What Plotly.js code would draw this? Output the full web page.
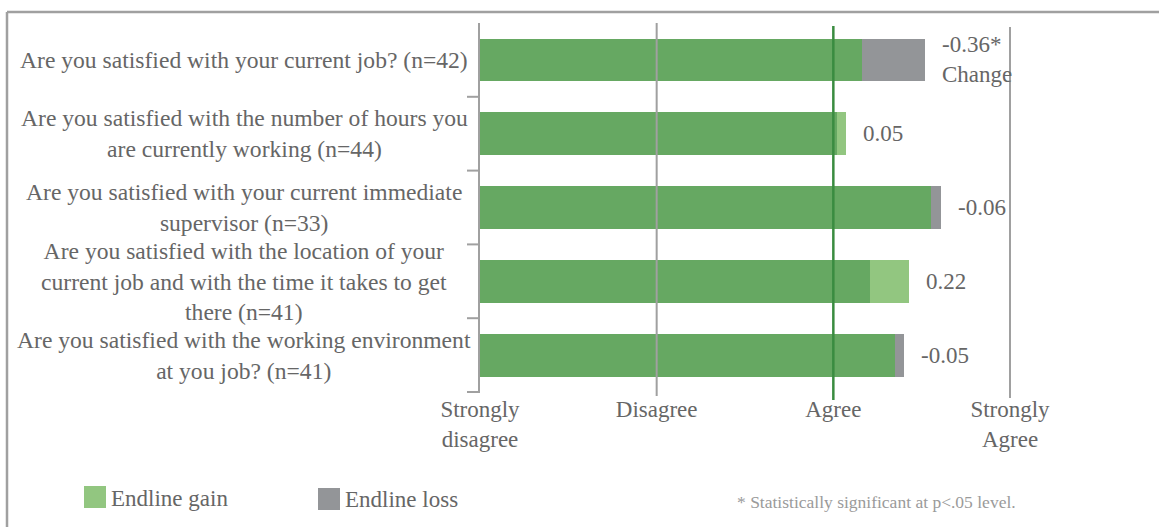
<!DOCTYPE html>
<html>
<head>
<meta charset="utf-8">
<script src="https://cdn.plot.ly/plotly-3.0.1.min.js"></script>
<style>
html,body{margin:0;padding:0;background:#fff;}
#chart{width:1159px;height:527px;}
</style>
</head>
<body>
<div id="chart"></div>
<script>
// ---- data ----
const categories = [
  "Are you satisfied with your current job? (n=42)",
  "Are you satisfied with the number of hours you<br>are currently working (n=44)",
  "Are you satisfied with your current immediate<br>supervisor (n=33)",
  "Are you satisfied with the location of your<br>current job and with the time it takes to get<br>there (n=41)",
  "Are you satisfied with the working environment<br>at you job? (n=41)"
];
const baseline = [3.52, 3.02, 3.61, 3.21, 3.40];
const endline  = [3.16, 3.07, 3.55, 3.43, 3.35];
const changeLabels = ["-0.36*<br>Change", "0.05", "-0.06", "0.22", "-0.05"];
const scaleVals = [1, 2, 3, 4];
const scaleLabels = ["Strongly<br>disagree", "Disagree", "Agree", "Strongly<br>Agree"];
const legendNames = ["Endline gain", "Endline loss"];
const footnote = "* Statistically significant at p<.05 level.";

// ---- derived series ----
const common = categories.map((c, i) => Math.min(baseline[i], endline[i]));
const gain = categories.map((c, i) => Math.max(endline[i] - baseline[i], 0));
const loss = categories.map((c, i) => Math.max(baseline[i] - endline[i], 0));
const barEnd = categories.map((c, i) => Math.max(baseline[i], endline[i]));

// ---- styling ----
const DARK = "#66a862", LIGHT = "#92c680", GREY = "#939598";
const TEXT = "#666666", LINE = "#a0a0a0";
const FONT = "Liberation Serif, Times New Roman, serif";
const W = 1159, H = 527, ML = 480, MT = 23, MB = 134, MR = 129;
const PW = W - ML - MR, PH = H - MT - MB;
const px = p => (p - ML) / PW;       // pixel x -> paper
const py = p => (H - MB - p) / PH;   // pixel y -> paper

const traces = [
  {type: "bar", orientation: "h", y: categories, x: common, marker: {color: DARK},
   name: "Endline", showlegend: false, hoverinfo: "skip"},
  {type: "bar", orientation: "h", y: categories, x: gain, marker: {color: LIGHT},
   name: legendNames[0], showlegend: false, hoverinfo: "skip"},
  {type: "bar", orientation: "h", y: categories, x: loss, marker: {color: GREY},
   name: legendNames[1], showlegend: false, hoverinfo: "skip"}
];

const shapes = [];
shapes.push({type: "line", layer: "above", xref: "x", yref: "paper", x0: scaleVals[1], x1: scaleVals[1],
  y0: py(396), y1: py(23), line: {color: LINE, width: 2}});
shapes.push({type: "line", layer: "above", xref: "x", yref: "paper", x0: scaleVals[3], x1: scaleVals[3],
  y0: py(398), y1: py(27), line: {color: LINE, width: 2}});
shapes.push({type: "line", layer: "above", xref: "x", yref: "paper", x0: scaleVals[2], x1: scaleVals[2],
  y0: py(400), y1: py(26), line: {color: "#3a8c40", width: 2.5}});
categories.forEach((c, i) => {
  shapes.push({type: "line", xref: "paper", yref: "y", x0: px(467), x1: 0, y0: i + 0.5, y1: i + 0.5,
    line: {color: LINE, width: 2}});
});
shapes.push({type: "line", xref: "paper", yref: "paper", x0: px(7), x1: px(1165), y0: py(12), y1: py(12),
  line: {color: LINE, width: 2.5}});
shapes.push({type: "line", xref: "paper", yref: "paper", x0: px(7), x1: px(7), y0: py(12), y1: py(535),
  line: {color: LINE, width: 2.5}});
shapes.push({type: "rect", xref: "paper", yref: "paper", x0: px(84), x1: px(106), y0: py(508), y1: py(486),
  fillcolor: LIGHT, line: {width: 0}});
shapes.push({type: "rect", xref: "paper", yref: "paper", x0: px(318), x1: px(340), y0: py(510), y1: py(488),
  fillcolor: GREY, line: {width: 0}});

const annotations = [];
categories.forEach((c, i) => {
  annotations.push({xref: "paper", yref: "y", x: 0, y: c, xshift: -236, xanchor: "center", yanchor: "middle",
    text: c, align: "center", showarrow: false, font: {family: FONT, size: 23.6, color: TEXT}});
});
categories.forEach((c, i) => {
  annotations.push({xref: "x", yref: "y", x: barEnd[i], y: c, xanchor: "left", yanchor: "middle", xshift: 15,
    text: changeLabels[i], align: "left", showarrow: false, font: {family: FONT, size: 23, color: TEXT}});
});
annotations.push({xref: "paper", yref: "paper", x: px(109), y: py(498), xanchor: "left", yanchor: "middle",
  text: legendNames[0], showarrow: false, font: {family: FONT, size: 23, color: TEXT}});
annotations.push({xref: "paper", yref: "paper", x: px(343), y: py(499), xanchor: "left", yanchor: "middle",
  text: legendNames[1], showarrow: false, font: {family: FONT, size: 23, color: TEXT}});
annotations.push({xref: "paper", yref: "paper", x: px(735), y: py(502), xanchor: "left", yanchor: "middle",
  text: footnote, showarrow: false, font: {family: FONT, size: 17.5, color: "#9a9a9a"}});

const layout = {
  width: W, height: H,
  margin: {l: ML, r: MR, t: MT, b: MB, pad: 0},
  paper_bgcolor: "#fff", plot_bgcolor: "#fff",
  barmode: "stack", bargap: 0.42,
  showlegend: false,
  font: {family: FONT, size: 23, color: TEXT},
  xaxis: {range: [1, 4 + 20 / 176.7], tickvals: scaleVals, ticktext: scaleLabels, showgrid: false,
    zeroline: false, showline: false, ticks: "", tickfont: {family: FONT, size: 23, color: TEXT}, fixedrange: true},
  yaxis: {type: "category", autorange: "reversed", showticklabels: false, showgrid: false, zeroline: false,
    showline: true, linecolor: LINE, linewidth: 2, ticks: "", fixedrange: true},
  shapes: shapes,
  annotations: annotations
};

Plotly.newPlot("chart", traces, layout, {displayModeBar: false, staticPlot: true});
</script>
</body>
</html>
